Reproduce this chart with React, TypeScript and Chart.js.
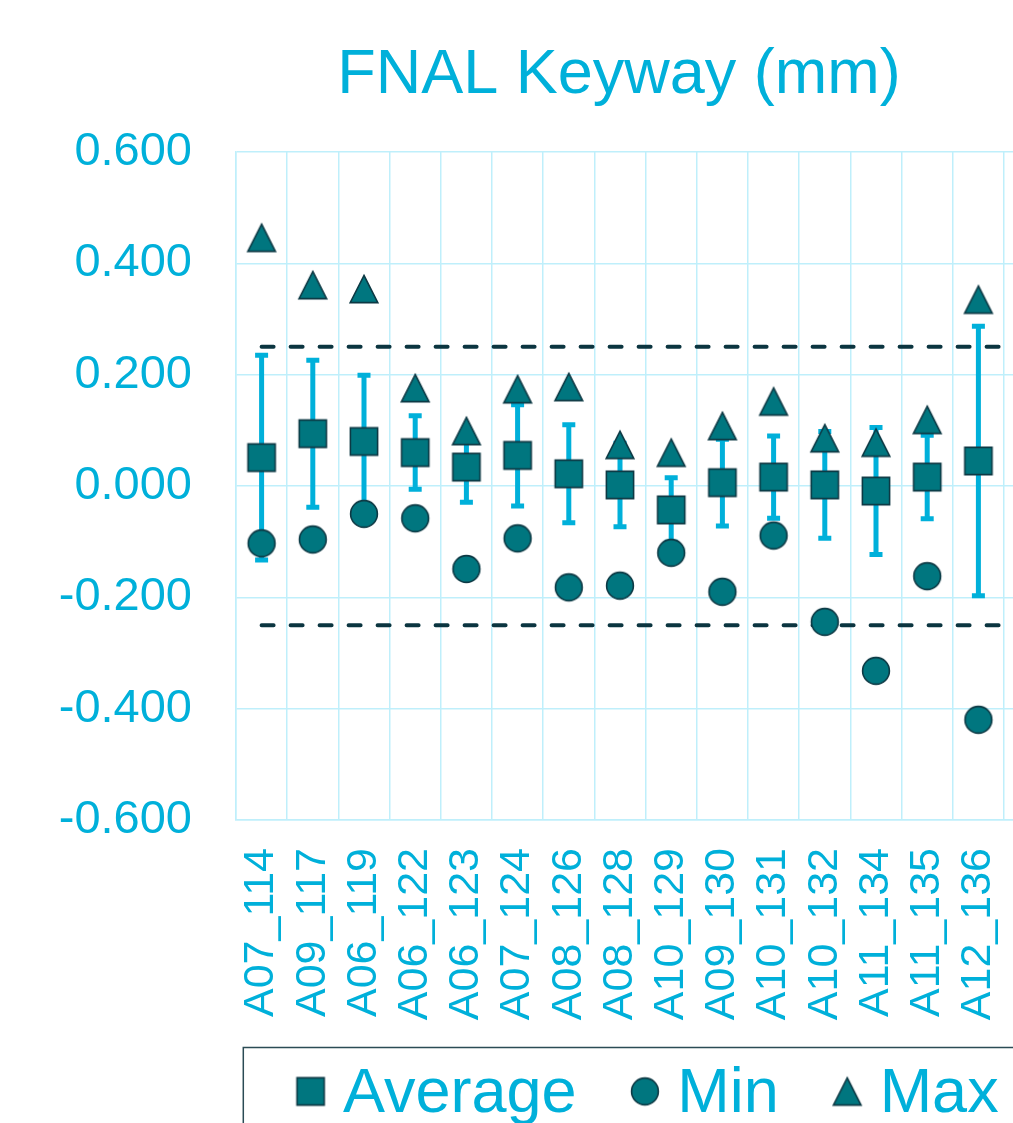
import React, { useEffect, useRef } from 'react';
import { Chart, registerables } from 'chart.js';

Chart.register(...registerables);

// Visible categories (the chart continues to the right beyond the cropped picture)
const categories = [
  'A07_114', 'A09_117', 'A06_119', 'A06_122', 'A06_123', 'A07_124', 'A08_126', 'A08_128',
  'A10_129', 'A09_130', 'A10_131', 'A10_132', 'A11_134', 'A11_135', 'A12_136',
  '', '', '', '',
];

const averageValues = [0.051, 0.094, 0.080, 0.060, 0.034, 0.055, 0.022, 0.002, -0.043, 0.006, 0.016, 0.002, -0.009, 0.016, 0.045, null, null, null, null];
const minValues = [-0.103, -0.096, -0.050, -0.058, -0.149, -0.094, -0.182, -0.179, -0.120, -0.190, -0.089, -0.244, -0.332, -0.162, -0.420, null, null, null, null];
const maxValues = [0.446, 0.361, 0.354, 0.176, 0.099, 0.174, 0.178, 0.074, 0.060, 0.108, 0.152, 0.086, 0.078, 0.119, 0.335, null, null, null, null];
const errorValues = [0.184, 0.132, 0.119, 0.066, 0.063, 0.091, 0.088, 0.075, 0.058, 0.078, 0.074, 0.096, 0.114, 0.075, 0.242, null, null, null, null];
const upperLimit = [0.25, 0.25, 0.25, 0.25, 0.25, 0.25, 0.25, 0.25, 0.25, 0.25, 0.25, 0.25, 0.25, 0.25, 0.25, 0.25, 0.25, 0.25, 0.25];
const lowerLimit = [-0.25, -0.25, -0.25, -0.25, -0.25, -0.25, -0.25, -0.25, -0.25, -0.25, -0.25, -0.25, -0.25, -0.25, -0.25, -0.25, -0.25, -0.25, -0.25];

const seriesNames = ['Average', 'Min', 'Max'];
const titleText = 'FNAL Keyway (mm)';
const yMin = -0.6;
const yMax = 0.6;
const yStep = 0.2;

const CYAN = '#00B0DA';
const GRID = '#BFEFFB';
const TEAL = '#00767F';
const EDGE = '#0D3944';
const SPEC = '#0B3540';
const LEGEND_BORDER = '#2B4B55';
const FONT = "'Liberation Sans', Arial, Helvetica, sans-serif";

function makeMarker(shape: string): HTMLCanvasElement {
  const c = document.createElement('canvas');
  c.width = 32;
  c.height = 32;
  const ctx = c.getContext('2d')!;
  ctx.fillStyle = TEAL;
  ctx.strokeStyle = EDGE;
  ctx.lineWidth = 1.6;
  ctx.beginPath();
  if (shape === 'square') {
    ctx.rect(2.4, 2.4, 27.2, 27.2);
  } else if (shape === 'circle') {
    ctx.arc(16, 16, 13.4, 0, Math.PI * 2);
  } else {
    ctx.moveTo(16, 2.4);
    ctx.lineTo(29.8, 29.6);
    ctx.lineTo(2.2, 29.6);
    ctx.closePath();
  }
  ctx.fill();
  ctx.stroke();
  return c;
}

export default function App() {
  const canvasRef = useRef<HTMLCanvasElement | null>(null);

  useEffect(() => {
    const canvas = canvasRef.current;
    if (!canvas) return;
    const markers = [makeMarker('square'), makeMarker('circle'), makeMarker('triangle')];

    const errorBarPlugin = {
      id: 'errorBars',
      beforeDatasetsDraw(chart: any) {
        const { ctx, scales } = chart;
        const xs = scales.x;
        const ys = scales.y;
        ctx.save();
        ctx.strokeStyle = CYAN;
        ctx.lineWidth = 5;
        ctx.lineCap = 'butt';
        averageValues.forEach((avg, i) => {
          const err = errorValues[i];
          if (avg === null || err === null) return;
          const x = xs.getPixelForValue(i);
          const yt = ys.getPixelForValue(avg + err);
          const yb = ys.getPixelForValue(avg - err);
          ctx.beginPath();
          ctx.moveTo(x, yt);
          ctx.lineTo(x, yb);
          ctx.moveTo(x - 6.5, yt);
          ctx.lineTo(x + 6.5, yt);
          ctx.moveTo(x - 6.5, yb);
          ctx.lineTo(x + 6.5, yb);
          ctx.stroke();
        });
        ctx.restore();
      },
    };

    const boxLegendPlugin = {
      id: 'boxLegend',
      afterDraw(chart: any) {
        const { ctx, chartArea } = chart;
        const boxLeft = chartArea.left + 7.3;
        const boxTop = chartArea.bottom + 227.5;
        ctx.save();
        ctx.font = `63px ${FONT}`;
        let x = boxLeft + 53.4;
        const midY = boxTop + 43.9;
        const baseY = boxTop + 64.2;
        ctx.textBaseline = 'alphabetic';
        ctx.textAlign = 'left';
        seriesNames.forEach((name, i) => {
          const m = markers[i];
          ctx.drawImage(m, x + 13.9 - m.width / 2, midY - m.height / 2);
          const tx = x + 46.3;
          ctx.fillStyle = CYAN;
          ctx.fillText(name, tx, baseY);
          const w = ctx.measureText(name).width;
          x = tx + w + 54.5;
        });
        const boxRight = x - 54.5 + 53.4;
        ctx.strokeStyle = LEGEND_BORDER;
        ctx.lineWidth = 1.5;
        ctx.strokeRect(boxLeft, boxTop, boxRight - boxLeft, 200);
        ctx.restore();
      },
    };

    const markerDataset = (label: string, data: (number | null)[], marker: HTMLCanvasElement, order: number) => ({
      type: 'line' as const,
      label,
      data,
      showLine: false,
      pointStyle: marker,
      pointRadius: 14,
      pointHoverRadius: 14,
      borderColor: EDGE,
      backgroundColor: TEAL,
      order,
    });

    const chart = new Chart(canvas, {
      type: 'line',
      data: {
        labels: categories,
        datasets: [
          markerDataset(seriesNames[0], averageValues, markers[0], 1),
          markerDataset(seriesNames[1], minValues, markers[1], 2),
          markerDataset(seriesNames[2], maxValues, markers[2], 3),
          {
            label: 'Upper limit',
            data: upperLimit,
            borderColor: SPEC,
            borderWidth: 4,
            borderDash: [12, 17],
            borderCapStyle: 'round',
            pointRadius: 0,
            fill: false,
            order: 4,
          },
          {
            label: 'Lower limit',
            data: lowerLimit,
            borderColor: SPEC,
            borderWidth: 4,
            borderDash: [12, 17],
            borderCapStyle: 'round',
            pointRadius: 0,
            fill: false,
            order: 5,
          },
        ],
      },
      options: {
        responsive: false,
        animation: false,
        devicePixelRatio: 1,
        layout: { padding: { left: 0, right: 0, top: 0, bottom: 93 } },
        plugins: {
          legend: { display: false },
          tooltip: { enabled: false },
          title: {
            display: true,
            text: titleText,
            color: CYAN,
            font: { family: FONT, size: 63, weight: 'normal' },
            padding: { top: 38, bottom: 38.4 },
          },
        },
        scales: {
          x: {
            type: 'category',
            offset: true,
            grid: { offset: true, color: GRID, lineWidth: 1.5, drawTicks: false },
            border: { color: GRID, width: 1.5 },
            ticks: {
              color: CYAN,
              font: { family: FONT, size: 43 },
              minRotation: 90,
              maxRotation: 90,
              autoSkip: false,
              padding: 28,
            },
            afterFit: (s: any) => {
              s.height = 210;
              s.paddingLeft = 0;
              s.paddingRight = 0;
            },
          },
          y: {
            type: 'linear',
            min: yMin,
            max: yMax,
            grid: { color: GRID, lineWidth: 1.5, drawTicks: false },
            border: { color: GRID, width: 1.5 },
            ticks: {
              stepSize: yStep,
              color: CYAN,
              font: { family: FONT, size: 47 },
              padding: 44,
              callback: (v: any) => {
                const n = Number(v);
                return (Math.abs(n) < 1e-9 ? 0 : n).toFixed(3);
              },
            },
            afterFit: (s: any) => {
              s.width = 236;
            },
          },
          rightSpace: {
            type: 'linear',
            position: 'right',
            display: true,
            grid: { display: false, drawTicks: false },
            border: { display: false },
            ticks: { display: false },
            afterFit: (s: any) => {
              s.width = 29.2;
              s.paddingTop = 0;
              s.paddingBottom = 0;
            },
          },
        },
      },
      plugins: [errorBarPlugin, boxLegendPlugin],
    } as any);

    return () => {
      chart.destroy();
    };
  }, []);

  return (
    <div
      style={{
        position: 'fixed',
        left: 0,
        top: 0,
        width: 1013,
        height: 1123,
        overflow: 'hidden',
        background: '#ffffff',
      }}
    >
      <canvas ref={canvasRef} width={1238} height={1123} style={{ width: 1238, height: 1123, display: 'block' }} />
    </div>
  );
}
